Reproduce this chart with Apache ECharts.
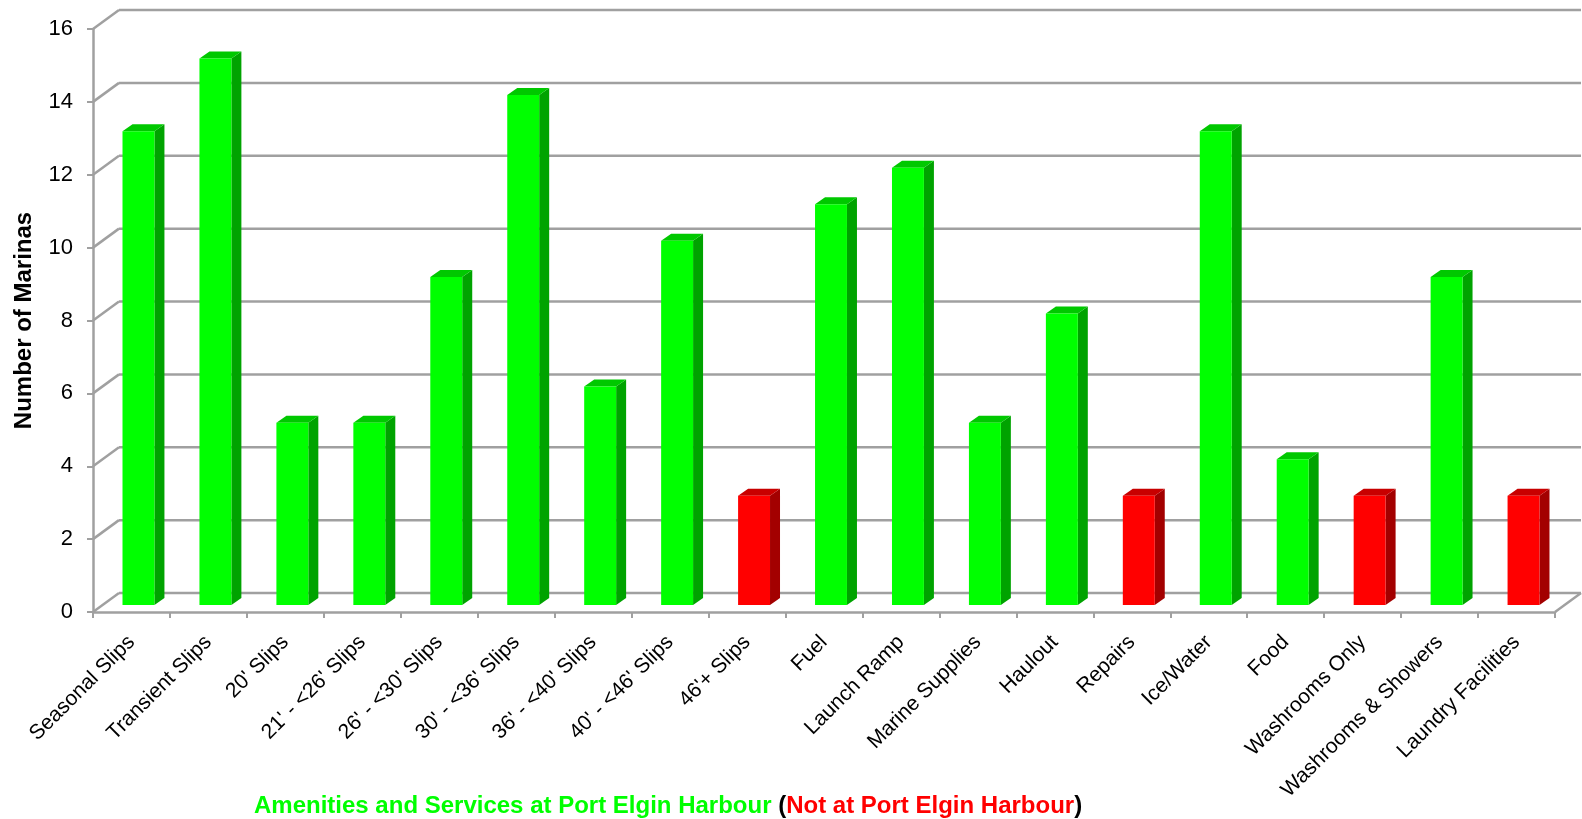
<!DOCTYPE html>
<html>
<head>
<meta charset="utf-8">
<script src="https://cdn.jsdelivr.net/npm/echarts@6/dist/echarts.min.js"></script>
<style>
  html, body { margin: 0; padding: 0; background: #fff; }
  #chart { width: 1582px; height: 819px; }
</style>
</head>
<body>
<div id="chart"></div>
<script>
const categories = [
  "Seasonal Slips", "Transient Slips", "20' Slips", "21' - <26' Slips",
  "26' - <30' Slips", "30' - <36' Slips", "36' - <40' Slips", "40' - <46' Slips",
  "46'+ Slips", "Fuel", "Launch Ramp", "Marine Supplies", "Haulout", "Repairs",
  "Ice/Water", "Food", "Washrooms Only", "Washrooms & Showers", "Laundry Facilities"
];
const marinaCounts = [13, 15, 5, 5, 9, 14, 6, 10, 3, 11, 12, 5, 8, 3, 13, 4, 3, 9, 3];
// true = amenity available at Port Elgin Harbour (green), false = not (red)
const atPortElgin = [
  true, true, true, true, true, true, true, true, false, true,
  true, true, true, false, true, true, false, true, false
];
const yTicks = [0, 2, 4, 6, 8, 10, 12, 14, 16];

const FONT = "'Liberation Sans', Arial, sans-serif";
const LINE = "#a0a0a0";
const WALL = [26, -19];      // back wall offset from the front plane
const BAR_SHIFT = [7, -7];   // bar front faces sit a bit behind the front edge
const BAR_DEPTH = [10, -7];  // visible depth of each bar
const COLORS = {
  green: { front: "#00ff00", side: "#00a300", top: "#00c800" },
  red: { front: "#ff0000", side: "#a30000", top: "#c80000" },
};

const chart = echarts.init(document.getElementById("chart"));

function renderWall(params, api) {
  const cs = params.coordSys;
  const v = api.value(1);
  const y = api.coord([0, v])[1];
  const x0 = cs.x;
  const x1 = cs.x + cs.width;
  const style = { stroke: LINE, lineWidth: 2.5 };
  const children = [
    { type: "line", shape: { x1: x0, y1: y, x2: x0 + WALL[0], y2: y + WALL[1] }, style },
    { type: "line", shape: { x1: x0 + WALL[0], y1: y + WALL[1], x2: x1 + WALL[0], y2: y + WALL[1] }, style },
  ];
  if (v === 0) {
    children.push({ type: "line", shape: { x1: x1, y1: y, x2: x1 + WALL[0], y2: y + WALL[1] }, style });
  }
  return { type: "group", children };
}

function renderBar(params, api) {
  const idx = api.value(0);
  const base = api.coord([idx, 0]);
  const top = api.coord([idx, api.value(1)]);
  const w = api.size([1, 0])[0] * 0.415;
  const xl = base[0] + BAR_SHIFT[0] - w / 2;
  const xr = xl + w;
  const yb = base[1] + BAR_SHIFT[1];
  const yt = top[1] + BAR_SHIFT[1];
  const [dx, dy] = BAR_DEPTH;
  const c = atPortElgin[idx] ? COLORS.green : COLORS.red;
  return {
    type: "group",
    children: [
      { type: "polygon", shape: { points: [[xr, yt], [xr + dx, yt + dy], [xr + dx, yb + dy], [xr, yb]] }, style: { fill: c.side } },
      { type: "polygon", shape: { points: [[xl, yt], [xr, yt], [xr + dx, yt + dy], [xl + dx, yt + dy]] }, style: { fill: c.top } },
      { type: "rect", shape: { x: xl, y: yt, width: w, height: yb - yt }, style: { fill: c.front } },
    ],
  };
}

const option = {
  animation: false,
  textStyle: { fontFamily: FONT },
  title: {
    text: "{g|Amenities and Services at Port Elgin Harbour} {k|(}{r|Not at Port Elgin Harbour}{k|)}",
    left: 249,
    top: 789,
    textStyle: {
      fontSize: 24,
      fontWeight: "bold",
      fontFamily: FONT,
      rich: {
        g: { color: "#00ff00", fontSize: 24, fontWeight: "bold", fontFamily: FONT },
        k: { color: "#000000", fontSize: 24, fontWeight: "bold", fontFamily: FONT },
        r: { color: "#ff0000", fontSize: 24, fontWeight: "bold", fontFamily: FONT },
      },
    },
  },
  grid: { left: 93, top: 29, width: 1462, height: 583, containLabel: false },
  xAxis: {
    type: "category",
    data: categories,
    axisLine: { lineStyle: { color: LINE, width: 2.5 } },
    axisTick: { show: true, length: 6, lineStyle: { color: LINE, width: 2 } },
    axisLabel: {
      rotate: 45,
      interval: 0,
      margin: 27,
      fontSize: 21,
      color: "#000",
      fontFamily: FONT,
    },
  },
  yAxis: {
    type: "value",
    min: 0,
    max: 16,
    interval: 2,
    name: "Number of Marinas",
    nameLocation: "middle",
    nameGap: 57,
    nameTextStyle: { fontSize: 24, fontWeight: "bold", color: "#000", fontFamily: FONT },
    axisLine: { show: true, lineStyle: { color: LINE, width: 2.5 } },
    axisTick: { show: true, length: 6, lineStyle: { color: LINE, width: 2 } },
    axisLabel: { fontSize: 22, color: "#000", margin: 20, fontFamily: FONT },
    splitLine: { show: false },
  },
  series: [
    {
      type: "custom",
      name: "wall",
      z: 1,
      silent: true,
      renderItem: renderWall,
      encode: { x: 0, y: 1 },
      data: yTicks.map((v) => [0, v]),
    },
    {
      type: "custom",
      name: "Number of Marinas",
      z: 3,
      renderItem: renderBar,
      encode: { x: 0, y: 1 },
      data: marinaCounts.map((v, i) => [i, v]),
    },
  ],
};

chart.setOption(option);
</script>
</body>
</html>
